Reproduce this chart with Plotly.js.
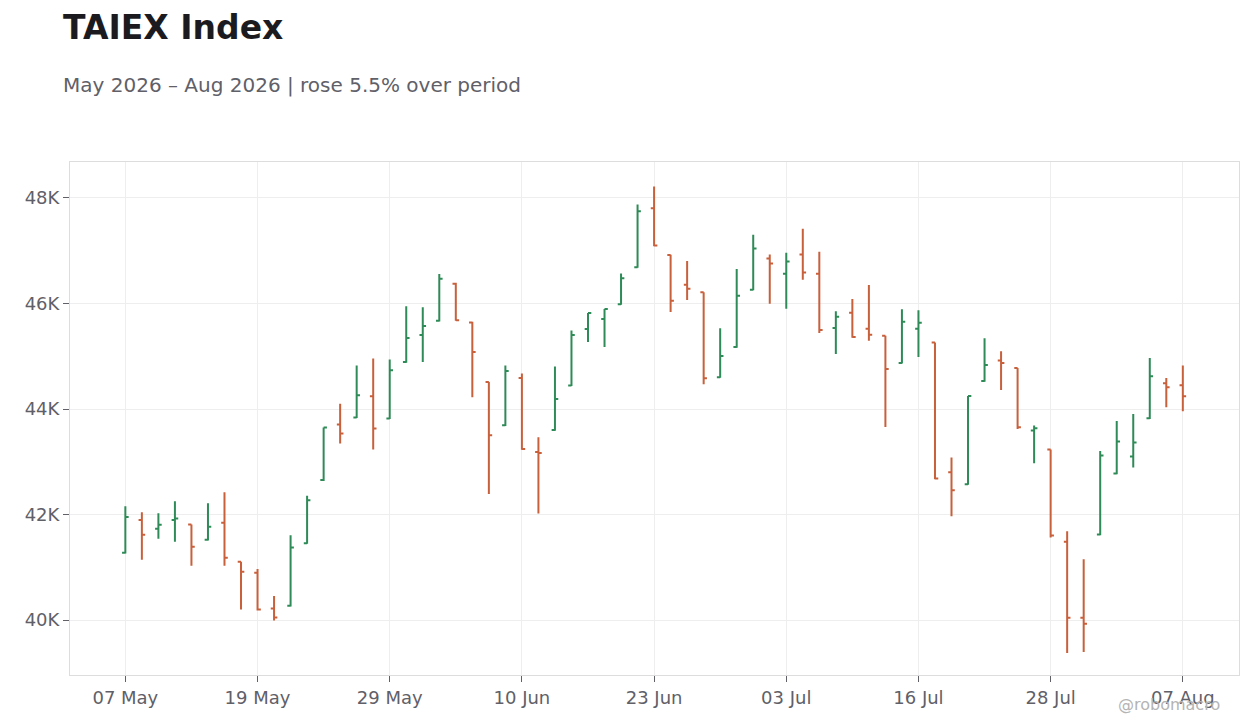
<!DOCTYPE html>
<html>
<head>
<meta charset="utf-8">
<script src="https://cdn.plot.ly/plotly-3.0.1.min.js"></script>
<style>
  html, body { margin: 0; padding: 0; background: #fff; }
  #chart { width: 1260px; height: 728px; }
</style>
</head>
<body>
<div id="chart"></div>
<script>
// trading days (TWSE), May - Aug 2026
var dates = [
  '2026-05-07','2026-05-08','2026-05-11','2026-05-12','2026-05-13','2026-05-14','2026-05-15','2026-05-18',
  '2026-05-19','2026-05-20','2026-05-21','2026-05-22','2026-05-25','2026-05-26','2026-05-27','2026-05-28',
  '2026-05-29','2026-06-01','2026-06-02','2026-06-03','2026-06-04','2026-06-05','2026-06-08','2026-06-09',
  '2026-06-10','2026-06-11','2026-06-12','2026-06-15','2026-06-16','2026-06-17','2026-06-18','2026-06-22',
  '2026-06-23','2026-06-24','2026-06-25','2026-06-26','2026-06-29','2026-06-30','2026-07-01','2026-07-02',
  '2026-07-03','2026-07-06','2026-07-07','2026-07-08','2026-07-09','2026-07-13','2026-07-14','2026-07-15',
  '2026-07-16','2026-07-17','2026-07-20','2026-07-21','2026-07-22','2026-07-23','2026-07-24','2026-07-27',
  '2026-07-28','2026-07-29','2026-07-30','2026-07-31','2026-08-03','2026-08-04','2026-08-05','2026-08-06',
  '2026-08-07'
];

var open = [
  41277, 41899, 41729, 41899, 41811, 41522, 41843, 41107, 40899, 40220, 40270, 41455, 42654, 43708, 43841, 44241,
  43822, 44889, 45403, 45670, 46375, 45638, 44510, 43690, 44586, 43186, 43602, 44447, 45514, 45703, 45987, 46688,
  47804, 46920, 46356, 46210, 44603, 45175, 46260, 46851, 46565, 46927, 46565, 45536, 45822, 45519, 45386, 44873,
  45519, 45259, 42803, 42575, 44531, 44918, 44778, 43595, 43234, 41487, 40044, 41620, 42778, 43101, 43823, 44487,
  44449
];
var high = [
  42157, 42044, 42025, 42251, 41811, 42214, 42421, 41107, 40968, 40459, 41610, 42357, 43650, 44101, 44825, 44959,
  44940, 45949, 45930, 46559, 46394, 45651, 44510, 44826, 44675, 43463, 44807, 45489, 45817, 45893, 46568, 47874,
  48215, 46925, 46806, 46210, 45530, 46654, 47302, 46927, 46959, 47416, 46978, 45854, 46083, 46348, 45386, 45892,
  45873, 45259, 43082, 44247, 45342, 45095, 44778, 43688, 43234, 41683, 41152, 43202, 43772, 43905, 44968, 44589,
  44823
];
var low = [
  41264, 41144, 41541, 41484, 41031, 41509, 41031, 40201, 40182, 39993, 40258, 41447, 42635, 43346, 43828, 43231,
  43809, 44876, 44889, 45657, 45670, 44222, 42390, 43678, 43230, 42018, 43589, 44435, 45268, 45173, 45975, 46675,
  47085, 45840, 46064, 44470, 44590, 45162, 46248, 45994, 45898, 46451, 45441, 45041, 45352, 45291, 43658, 44861,
  44987, 42670, 41968, 42563, 44518, 44360, 43620, 42970, 41563, 39379, 39398, 41607, 42766, 42892, 43810, 44032,
  43956
];
var close = [
  41956, 41616, 41805, 41924, 41390, 41767, 41182, 40918, 40201, 40050, 41378, 42270, 43650, 43536, 44260, 43631,
  44736, 45346, 45575, 46470, 45683, 45079, 43503, 44719, 43242, 43167, 44189, 45400, 45817, 45893, 46479, 47748,
  47098, 46050, 46279, 44584, 45003, 46146, 47041, 46756, 46794, 46584, 45498, 45746, 45365, 45405, 44759, 45652,
  45633, 42683, 42462, 44247, 44835, 44873, 43652, 43636, 41601, 40044, 39930, 43120, 43386, 43367, 44620, 44411,
  44241
];

var tickDates = ['2026-05-07','2026-05-19','2026-05-29','2026-06-10','2026-06-23','2026-07-03','2026-07-16','2026-07-28','2026-08-07'];
var tickText = ['07 May','19 May','29 May','10 Jun','23 Jun','03 Jul','16 Jul','28 Jul','07 Aug'];

var FONT = 'DejaVu Sans, sans-serif';
var GREY = '#5f6068';

var trace = {
  type: 'ohlc',
  x: dates,
  open: open,
  high: high,
  low: low,
  close: close,
  tickwidth: 0.2,
  increasing: { line: { color: '#2e8b57', width: 2 } },
  decreasing: { line: { color: '#c8603c', width: 2 } },
  showlegend: false
};

var layout = {
  width: 1260,
  height: 728,
  margin: { l: 70, r: 21, t: 162, b: 53 },
  paper_bgcolor: '#ffffff',
  plot_bgcolor: '#ffffff',
  font: { family: FONT, color: GREY, size: 18 },
  title: {
    text: '<b>TAIEX Index</b>',
    font: { family: FONT, size: 33, color: '#1b1b1f' },
    x: 0.05, xref: 'container', xanchor: 'left',
    y: 0.962, yref: 'container', yanchor: 'middle'
  },
  xaxis: {
    type: 'category',
    range: [-3.35, 67.4],
    rangeslider: { visible: false },
    tickmode: 'array',
    tickvals: tickDates,
    ticktext: tickText,
    ticks: 'outside',
    ticklen: 6,
    tickcolor: '#5f6068',
    showgrid: true,
    gridcolor: '#eeeeee',
    showline: true,
    linecolor: '#dddddd',
    mirror: true,
    zeroline: false,
    tickfont: { family: FONT, size: 18, color: GREY }
  },
  yaxis: {
    range: [38960, 48680],
    tickvals: [40000, 42000, 44000, 46000, 48000],
    ticktext: ['40K', '42K', '44K', '46K', '48K'],
    ticks: 'outside',
    ticklen: 6,
    tickcolor: '#5f6068',
    showgrid: true,
    gridcolor: '#eeeeee',
    showline: true,
    linecolor: '#dddddd',
    mirror: true,
    zeroline: false,
    tickfont: { family: FONT, size: 18, color: GREY }
  },
  annotations: [
    {
      text: 'May 2026 – Aug 2026 | rose 5.5% over period',
      xref: 'paper', yref: 'paper',
      x: -0.008, y: 1.150, xanchor: 'left', yanchor: 'middle',
      showarrow: false,
      font: { family: FONT, size: 20, color: GREY }
    },
    {
      text: '@robomacro',
      xref: 'paper', yref: 'paper',
      x: 0.9855, y: -0.058, xanchor: 'right', yanchor: 'middle',
      showarrow: false,
      font: { family: FONT, size: 16, color: '#b4b4b4' }
    }
  ]
};

Plotly.newPlot('chart', [trace], layout, { displayModeBar: false, staticPlot: true });
</script>
</body>
</html>
